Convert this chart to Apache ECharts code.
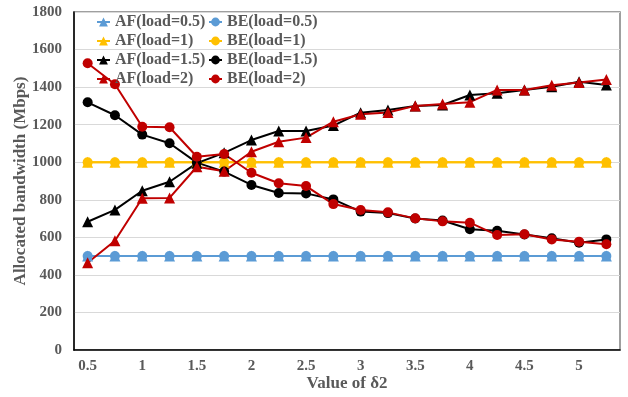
<!DOCTYPE html>
<html>
<head>
<meta charset="utf-8">
<script src="https://cdn.jsdelivr.net/npm/echarts@6/dist/echarts.min.js"></script>
<style>
  html, body { margin: 0; padding: 0; background: #fff; }
  #main { width: 628px; height: 397px; }
</style>
</head>
<body>
<div id="main"></div>
<script>
// x 轴类别 (δ2)
var delta2 = ['0.5', '0.75', '1', '1.25', '1.5', '1.75', '2', '2.25', '2.5', '2.75',
  '3', '3.25', '3.5', '3.75', '4', '4.25', '4.5', '4.75', '5', '5.25'];

var af05 = [500, 500, 500, 500, 500, 500, 500, 500, 500, 500, 500, 500, 500, 500, 500, 500, 500, 500, 500, 500];
var be05 = [500, 500, 500, 500, 500, 500, 500, 500, 500, 500, 500, 500, 500, 500, 500, 500, 500, 500, 500, 500];
var af1 = [1000, 1000, 1000, 1000, 1000, 1000, 1000, 1000, 1000, 1000, 1000, 1000, 1000, 1000, 1000, 1000, 1000, 1000, 1000, 1000];
var be1 = [1000, 1000, 1000, 1000, 1000, 1000, 1000, 1000, 1000, 1000, 1000, 1000, 1000, 1000, 1000, 1000, 1000, 1000, 1000, 1000];
var af15 = [683, 746, 848, 896, 995, 1050, 1118, 1166, 1166, 1195, 1264, 1278, 1299, 1305, 1358, 1367, 1385, 1402, 1429, 1411];
var be15 = [1319, 1250, 1147, 1101, 998, 950, 879, 836, 834, 802, 737, 729, 700, 690, 643, 635, 615, 595, 571, 589];
var af2 = [465, 582, 808, 810, 976, 952, 1056, 1109, 1131, 1216, 1255, 1265, 1300, 1310, 1320, 1385, 1385, 1410, 1425, 1440];
var be2 = [1527, 1415, 1189, 1186, 1029, 1044, 944, 888, 873, 777, 746, 733, 701, 685, 678, 612, 616, 589, 577, 563];

var yTicks = { min: 0, max: 1800, interval: 200 };

var labelFont = {
  color: '#595959',
  fontFamily: 'Liberation Serif',
  fontWeight: 'bold'
};

function mkSeries(name, data, color, symbol) {
  return {
    name: name,
    type: 'line',
    data: data,
    symbol: symbol,
    symbolSize: symbol === 'triangle' ? 11 : 10,
    itemStyle: { color: color },
    lineStyle: { color: color, width: 2 },
    emphasis: { disabled: true }
  };
}

var legendText = { color: '#595959', fontFamily: 'Liberation Serif', fontWeight: 'bold', fontSize: 16 };

var chartDom = document.getElementById('main');
var myChart = echarts.init(chartDom);
var option = {
  backgroundColor: '#fff',
  animation: false,
  legend: [
    {
      orient: 'vertical',
      left: 94,
      top: 12,
      itemWidth: 13,
      itemHeight: 11,
      itemGap: 3,
      padding: 2,
      data: ['AF(load=0.5)', 'AF(load=1)', 'AF(load=1.5)', 'AF(load=2)'],
      textStyle: legendText
    },
    {
      orient: 'vertical',
      left: 206,
      top: 12,
      itemWidth: 13,
      itemHeight: 11,
      itemGap: 3,
      padding: 2,
      data: ['BE(load=0.5)', 'BE(load=1)', 'BE(load=1.5)', 'BE(load=2)'],
      textStyle: legendText
    }
  ],
  grid: {
    left: 74,
    right: 8,
    top: 12,
    bottom: 47,
    outerBoundsMode: 'none',
    containLabel: false,
    show: true,
    borderColor: '#808080',
    borderWidth: 1.5
  },
  xAxis: {
    type: 'category',
    data: delta2,
    boundaryGap: true,
    name: 'Value of δ2',
    nameLocation: 'middle',
    nameGap: 25,
    nameMoveOverlap: false,
    nameTextStyle: { color: '#595959', fontFamily: 'Liberation Serif', fontWeight: 'bold', fontSize: 17 },
    axisTick: { show: false },
    axisLine: { show: true, lineStyle: { color: '#000', width: 1.5 } },
    axisLabel: Object.assign({ interval: 1, margin: 9, fontSize: 15 }, labelFont),
    splitLine: { show: false }
  },
  yAxis: {
    type: 'value',
    min: yTicks.min,
    max: yTicks.max,
    interval: yTicks.interval,
    name: 'Allocated bandwidth (Mbps)',
    nameLocation: 'middle',
    nameGap: 45,
    nameMoveOverlap: false,
    nameTextStyle: { color: '#595959', fontFamily: 'Liberation Serif', fontWeight: 'bold', fontSize: 17 },
    axisTick: { show: false },
    axisLine: { show: true, lineStyle: { color: '#000', width: 1.5 } },
    axisLabel: Object.assign({
      margin: 12,
      fontSize: 15,
      formatter: function (v) { return String(v); }
    }, labelFont),
    splitLine: { show: true, lineStyle: { color: '#D9D9D9', width: 1 } }
  },
  series: [
    mkSeries('AF(load=0.5)', af05, '#5B9BD5', 'triangle'),
    mkSeries('BE(load=0.5)', be05, '#5B9BD5', 'circle'),
    mkSeries('AF(load=1)', af1, '#FFC000', 'triangle'),
    mkSeries('BE(load=1)', be1, '#FFC000', 'circle'),
    mkSeries('AF(load=1.5)', af15, '#000000', 'triangle'),
    mkSeries('BE(load=1.5)', be15, '#000000', 'circle'),
    mkSeries('AF(load=2)', af2, '#C00000', 'triangle'),
    mkSeries('BE(load=2)', be2, '#C00000', 'circle')
  ]
};

option && myChart.setOption(option);
window.addEventListener('resize', function () {
  myChart.resize();
});
</script>
</body>
</html>
